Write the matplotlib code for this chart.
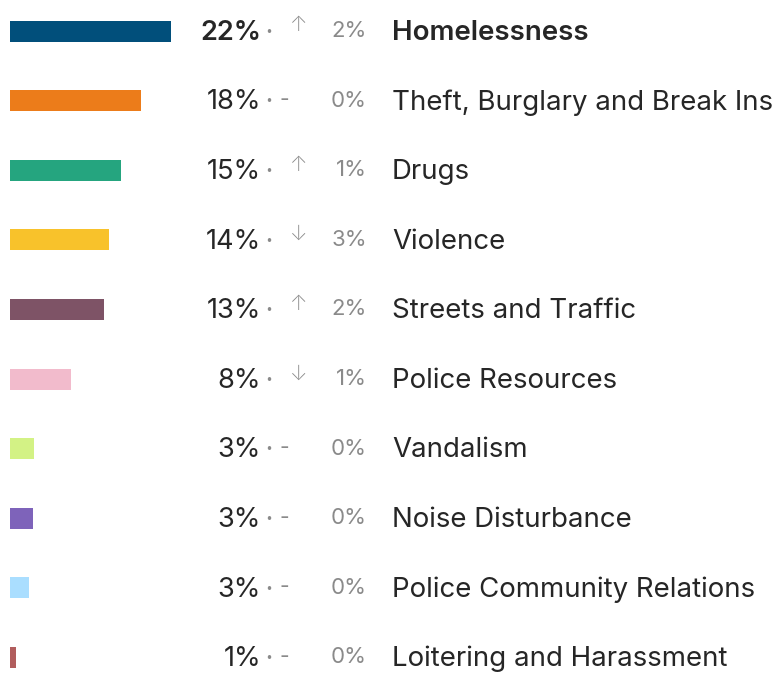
import matplotlib
matplotlib.use("Agg")
import matplotlib.pyplot as plt
import matplotlib.transforms as mtransforms

categories = ["Homelessness", "Theft, Burglary and Break Ins", "Drugs", "Violence",
              "Streets and Traffic", "Police Resources", "Vandalism",
              "Noise Disturbance", "Police Community Relations", "Loitering and Harassment"]
values = [22.0, 17.9, 15.2, 13.5, 12.8, 8.3, 3.3, 3.2, 2.6, 0.8]
labels = ["22%", "18%", "15%", "14%", "13%", "8%", "3%", "3%", "3%", "1%"]
changes = [2, 0, 1, 3, 2, 1, 0, 0, 0, 0]
directions = ["up", "none", "up", "down", "up", "down", "none", "none", "none", "none"]
colors = ["#014f7b", "#ec7c1a", "#25a57f", "#f8c22b", "#7e5366",
          "#f2bbcc", "#d3f285", "#7e63ba", "#aadeff", "#b15d5d"]

W, H = 778, 674
fig = plt.figure(figsize=(W / 100, H / 100), dpi=100)
ax = fig.add_axes([0, 0, 1, 1])

px_per_pct = 161 / 22.0
x0 = -10 / px_per_pct
x1 = (W - 10) / px_per_pct
row0, step = 31, 69.6
ax.set_xlim(x0, x1)
ax.set_ylim((H - row0) / step, -row0 / step)
ax.axis("off")

ypos = list(range(len(categories)))
ax.barh(ypos, values, height=21 / step, color=colors, left=0)

trans = mtransforms.blended_transform_factory(fig.transFigure, ax.transData)
fam = ["Inter", "DejaVu Sans"]
dark = "#262626"
gray = "#8a8a8a"
dy = 0.025

for i, (cat, lab, ch, d) in enumerate(zip(categories, labels, changes, directions)):
    bold = "semibold" if i == 0 else "normal"
    ax.text(261 / W, i + dy, lab, transform=trans, ha="right", va="center",
            fontsize=19.6, fontweight=bold, color=dark, family=fam)
    ax.text(269 / W, i + dy, "·", transform=trans, ha="center", va="center",
            fontsize=15, color=gray, family=fam, fontweight="bold")
    if d == "none":
        ax.text(284 / W, i - 0.01, "-", transform=trans, ha="center", va="center",
                fontsize=15, color=gray, family=fam)
    else:
        arrow = "↑" if d == "up" else "↓"
        ax.text(299 / W, i - 0.08, arrow, transform=trans, ha="center", va="center",
                fontsize=15, color=gray, family=fam, fontweight="light")
    ax.text(367 / W, i, f"{ch}%", transform=trans, ha="right", va="center",
            fontsize=16, color=gray, family=fam)
    ax.text(392 / W, i + dy, cat, transform=trans, ha="left", va="center",
            fontsize=19.9, fontweight=("semibold" if i == 0 else "normal"),
            color=dark, family=fam)

fig.savefig("out.png", dpi=100)
